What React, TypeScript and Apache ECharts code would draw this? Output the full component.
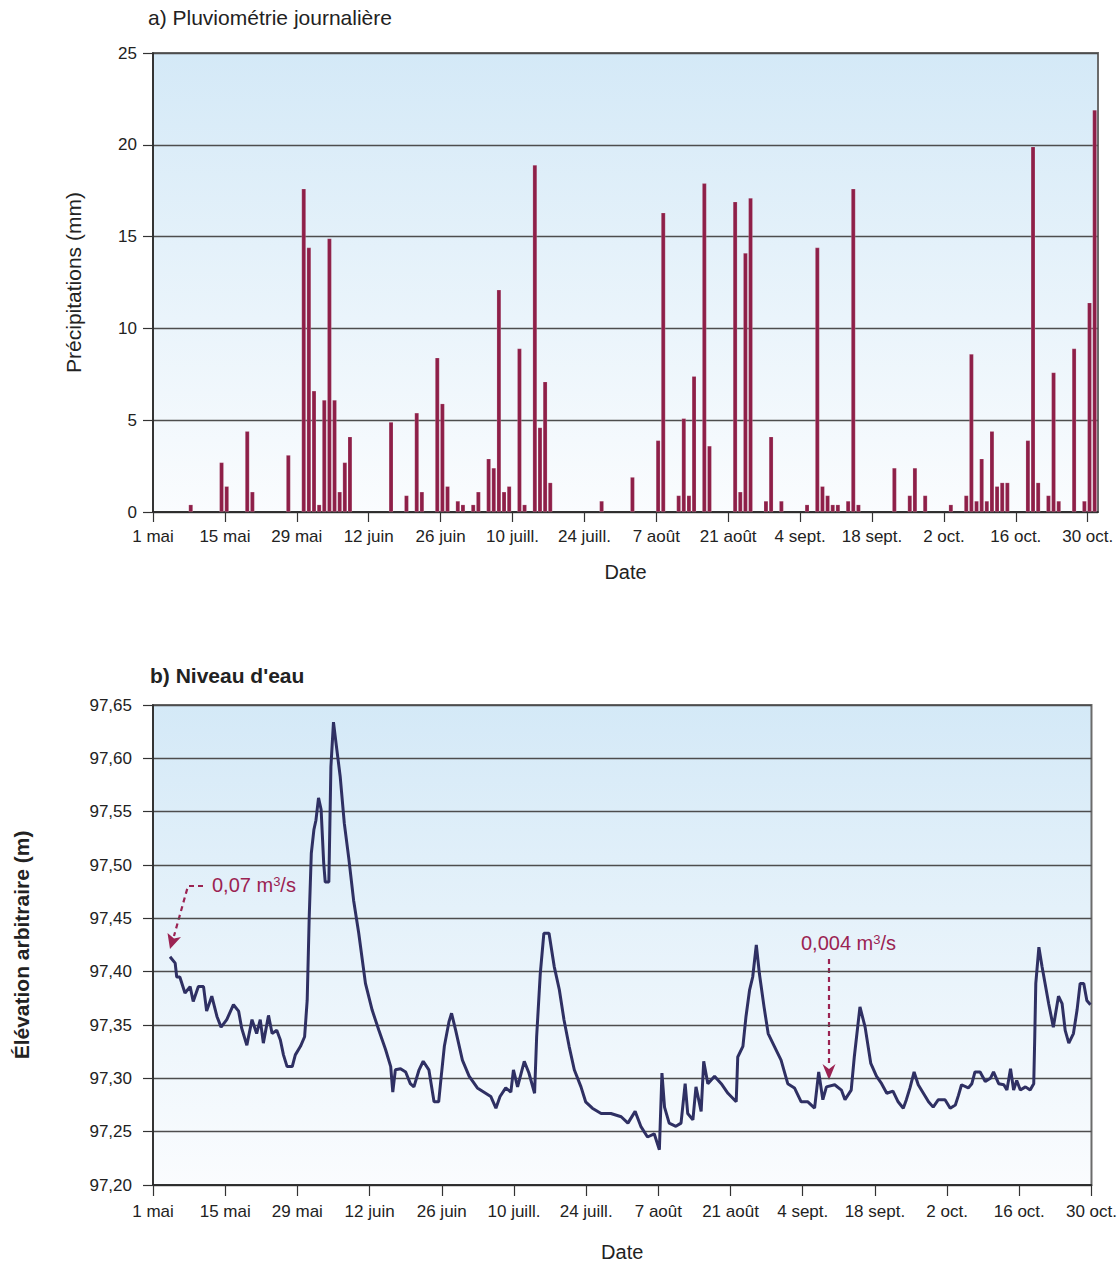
import React, { useEffect, useRef } from "react";
import * as echarts from "echarts";

// ---- Data ----
const dateTicks = [
  "1 mai", "15 mai", "29 mai", "12 juin", "26 juin", "10 juill.", "24 juill.",
  "7 août", "21 août", "4 sept.", "18 sept.", "2 oct.", "16 oct.", "30 oct.",
];

// day index from 1 mai (0) and daily rainfall (mm)
const rainDays = [
  7, 13, 14, 18, 19, 26, 29, 30, 31, 32, 33, 34, 35, 36, 37, 38, 46, 49, 51, 52,
  55, 56, 57, 59, 60, 62, 63, 65, 66, 67, 68, 69, 71, 72, 74, 75, 76, 77, 87, 93,
  98, 99, 102, 103, 104, 105, 107, 108, 113, 114, 115, 116, 119, 120, 122, 127,
  129, 130, 131, 132, 133, 135, 136, 137, 144, 147, 148, 150, 155, 158, 159, 160,
  161, 162, 163, 164, 165, 166, 170, 171, 172, 174, 175, 176, 179, 181, 182, 183,
];
const rainMm = [
  0.4, 2.7, 1.4, 4.4, 1.1, 3.1, 17.6, 14.4, 6.6, 0.4, 6.1, 14.9, 6.1, 1.1, 2.7, 4.1, 4.9, 0.9, 5.4, 1.1,
  8.4, 5.9, 1.4, 0.6, 0.4, 0.4, 1.1, 2.9, 2.4, 12.1, 1.1, 1.4, 8.9, 0.4, 18.9, 4.6, 7.1, 1.6, 0.6, 1.9,
  3.9, 16.3, 0.9, 5.1, 0.9, 7.4, 17.9, 3.6, 16.9, 1.1, 14.1, 17.1, 0.6, 4.1, 0.6, 0.4,
  14.4, 1.4, 0.9, 0.4, 0.4, 0.6, 17.6, 0.4, 2.4, 0.9, 2.4, 0.9, 0.4, 0.9, 8.6, 0.6,
  2.9, 0.6, 4.4, 1.4, 1.6, 1.6, 3.9, 19.9, 1.6, 0.9, 7.6, 0.6, 8.9, 0.6, 11.4, 21.9,
];

// water level: day (from 1 mai) and elevation (m)
const levelDays = [
  3.3, 4.3, 4.6, 5.2, 6.2, 7.2, 7.8, 8.8, 9.8, 10.4, 11.4, 12.4, 13.2, 14.3, 15.6, 16.6, 17.2, 18.2, 19.2, 20.1,
  20.8, 21.4, 22.4, 23.1, 24.0, 24.7, 25.3, 26.0, 27.0, 27.6, 28.6, 29.4, 29.9, 30.3, 30.7, 31.2, 31.6, 32.1, 32.6, 33.1,
  33.4, 34.1, 34.5, 35.0, 35.5, 36.3, 37.1, 38.0, 38.9, 39.9, 41.2, 42.5, 43.8, 45.1, 46.1, 46.5, 47.0, 48.0, 49.0, 49.9,
  50.6, 51.6, 52.4, 53.5, 54.5, 55.4, 55.9, 56.5, 57.4, 57.9, 58.7, 60.0, 61.3, 62.9, 64.2, 65.5, 66.5, 67.3, 68.4, 69.4,
  69.9, 70.7, 72.0, 72.9, 74.0, 74.4, 75.1, 75.8, 76.8, 77.8, 78.8, 79.7, 80.7, 81.7, 83.0, 83.9, 85.2, 86.9, 88.8, 90.8,
  92.1, 93.5, 94.6, 95.9, 97.2, 98.2, 98.7, 99.2, 100.1, 101.4, 102.4, 103.2, 103.7, 104.7, 105.3, 106.3, 106.8, 107.6, 108.9, 110.2,
  111.5, 113.1, 113.4, 114.4, 115.0, 115.7, 116.3, 117.0, 117.6, 118.5, 119.3, 120.5, 121.8, 123.1, 124.4, 125.7, 127.0, 128.3, 129.1, 129.9,
  130.6, 132.2, 133.5, 134.2, 135.4, 136.0, 137.1, 138.1, 139.2, 140.3, 141.3, 142.3, 143.5, 144.5, 145.5, 146.1, 146.8, 147.6, 148.4, 149.4,
  150.4, 151.3, 152.3, 153.6, 154.6, 155.6, 156.2, 156.8, 158.1, 158.8, 159.4, 160.4, 161.4, 162.4, 163.0, 164.0, 165.0, 165.6, 166.3, 166.9,
  167.5, 168.2, 169.2, 170.1, 170.8, 171.0, 171.2, 171.8, 172.4, 173.0, 173.7, 174.6, 175.6, 176.3, 176.9, 177.6, 178.5, 179.2, 179.8, 180.5,
  181.1, 181.8,
];
const levelM = [
  97.414, 97.408, 97.395, 97.395, 97.38, 97.386, 97.372, 97.386, 97.386, 97.363, 97.377, 97.358, 97.348, 97.355, 97.369, 97.363, 97.347, 97.331, 97.355, 97.342,
  97.355, 97.333, 97.359, 97.342, 97.345, 97.336, 97.322, 97.311, 97.311, 97.322, 97.33, 97.339, 97.373, 97.452, 97.511, 97.533, 97.542, 97.563, 97.552, 97.502,
  97.484, 97.484, 97.592, 97.634, 97.614, 97.583, 97.539, 97.505, 97.467, 97.436, 97.389, 97.364, 97.345, 97.327, 97.311, 97.287, 97.308, 97.309, 97.306, 97.295,
  97.292, 97.308, 97.316, 97.308, 97.278, 97.278, 97.302, 97.33, 97.353, 97.361, 97.345, 97.317, 97.302, 97.291, 97.287, 97.283, 97.272, 97.283, 97.291, 97.287,
  97.308, 97.292, 97.316, 97.305, 97.286, 97.339, 97.398, 97.436, 97.436, 97.405, 97.383, 97.355, 97.33, 97.308, 97.292, 97.278, 97.272, 97.267, 97.267, 97.264,
  97.258, 97.269, 97.255, 97.245, 97.248, 97.233, 97.305, 97.273, 97.258, 97.255, 97.258, 97.295, 97.267, 97.261, 97.292, 97.269, 97.316, 97.295, 97.302, 97.295,
  97.286, 97.278, 97.32, 97.33, 97.358, 97.383, 97.395, 97.425, 97.398, 97.367, 97.342, 97.33, 97.317, 97.295, 97.291, 97.278, 97.278, 97.272, 97.306, 97.28,
  97.292, 97.294, 97.289, 97.28, 97.289, 97.32, 97.367, 97.348, 97.314, 97.302, 97.295, 97.286, 97.288, 97.278, 97.272, 97.28, 97.291, 97.306, 97.294, 97.286,
  97.278, 97.273, 97.28, 97.28, 97.272, 97.275, 97.284, 97.294, 97.291, 97.295, 97.306, 97.306, 97.297, 97.3, 97.306, 97.295, 97.294, 97.289, 97.309, 97.289,
  97.298, 97.289, 97.292, 97.289, 97.295, 97.339, 97.389, 97.423, 97.405, 97.389, 97.37, 97.348, 97.377, 97.37, 97.345, 97.333, 97.342, 97.364, 97.389, 97.389,
  97.373, 97.369,
];

const FONT = '"Liberation Sans", Arial, Helvetica, sans-serif';
const TXT = "#222";
const ANNOT = "#9b2352";

const bg = {
  type: "linear", x: 0, y: 0, x2: 0, y2: 1,
  colorStops: [
    { offset: 0, color: "#d4e9f7" },
    { offset: 1, color: "#fafcfe" },
  ],
};

const tickDays = dateTicks.map((_, i) => i * 14);

function xAxisCfg(gridIndex: number, max: number, labelMargin: number, nameGap: number, tickLen: number) {
  return {
    gridIndex,
    type: "value",
    min: 0,
    max,
    interval: 14,
    axisLine: { show: true, lineStyle: { color: "#222", width: 1.5 } },
    axisTick: { show: true, length: tickLen, customValues: tickDays, lineStyle: { color: "#333", width: 1.2 } },
    axisLabel: {
      customValues: tickDays,
      formatter: (v: number) => dateTicks[Math.round(v / 14)] ?? "",
      fontSize: 17, color: TXT, fontFamily: FONT, margin: labelMargin,
    },
    splitLine: { show: false },
    name: "Date",
    nameLocation: "middle",
    nameGap,
    nameTextStyle: { fontSize: 20, color: TXT, fontFamily: FONT },
  };
}

export default function App() {
  const ref = useRef<HTMLDivElement>(null);

  useEffect(() => {
    document.body.style.margin = "0";
    if (!ref.current) return;
    const chart = echarts.init(ref.current, null, { renderer: "svg" });
    const option: any = {
      animation: false,
      backgroundColor: "#ffffff",
      textStyle: { fontFamily: FONT },
      title: [
        {
          text: "a) Pluviométrie journalière", left: 148, top: 7, padding: 0,
          textStyle: { fontSize: 21, fontWeight: "normal", color: TXT, fontFamily: FONT },
        },
        {
          text: "b) Niveau d'eau", left: 150, top: 665, padding: 0,
          textStyle: { fontSize: 21, fontWeight: "bold", color: TXT, fontFamily: FONT },
        },
      ],
      grid: [
        { left: 153, top: 53, width: 945, height: 459, show: true, backgroundColor: bg, borderColor: "#6b6b6b", borderWidth: 2 },
        { left: 153, top: 705, width: 939, height: 480, show: true, backgroundColor: bg, borderColor: "#6b6b6b", borderWidth: 2 },
      ],
      xAxis: [xAxisCfg(0, 184, 16, 50, 10), xAxisCfg(1, 182, 18, 57, 11)],
      yAxis: [
        {
          gridIndex: 0, type: "value", min: 0, max: 25, interval: 5,
          axisLine: { show: true, lineStyle: { color: "#222", width: 1.5 } },
          axisTick: { show: true, length: 10, lineStyle: { color: "#333", width: 1.2 } },
          axisLabel: { fontSize: 17, color: TXT, fontFamily: FONT, margin: 16 },
          splitLine: { show: true, lineStyle: { color: "#4d4d4d", width: 1.3 } },
          name: "Précipitations (mm)", nameLocation: "middle", nameGap: 69,
          nameTextStyle: { fontSize: 21, color: TXT, fontFamily: FONT },
        },
        {
          gridIndex: 1, type: "value", min: 97.2, max: 97.65, interval: 0.05,
          axisLine: { show: true, lineStyle: { color: "#222", width: 1.5 } },
          axisTick: { show: true, length: 10, lineStyle: { color: "#333", width: 1.2 } },
          axisLabel: {
            fontSize: 17, color: TXT, fontFamily: FONT, margin: 21,
            formatter: (v: number) => v.toFixed(2).replace(".", ","),
          },
          splitLine: { show: true, lineStyle: { color: "#4d4d4d", width: 1.3 } },
          name: "Élévation arbitraire (m)", nameLocation: "middle", nameGap: 121,
          nameTextStyle: { fontSize: 21, fontWeight: "bold", color: TXT, fontFamily: FONT },
        },
      ],
      series: [
        {
          type: "bar", xAxisIndex: 0, yAxisIndex: 0,
          data: rainDays.map((d, i) => [d + 0.35, rainMm[i]]),
          barWidth: 4.4,
          itemStyle: { color: "#8e1f48", borderColor: "rgba(255,255,255,0.35)", borderWidth: 0.5 },
        },
        {
          type: "line", xAxisIndex: 1, yAxisIndex: 1,
          data: levelDays.map((d, i) => [d, levelM[i]]),
          showSymbol: false, symbol: "none",
          lineStyle: { color: "#2f3063", width: 3 },
        },
      ],
      graphic: [
        // annotation 1
        {
          type: "polyline", shape: { points: [[203, 886], [188, 886], [174, 936]] },
          style: { stroke: ANNOT, lineWidth: 2.2, lineDash: [5, 4], fill: null },
        },
        {
          type: "polygon", shape: { points: [[170, 949], [167.5, 933], [174, 938.5], [181, 937]] },
          style: { fill: ANNOT },
        },
        {
          type: "text", x: 212, y: 885,
          style: {
            text: "0,07 m{sup|3}/s", fill: ANNOT, fontSize: 20, fontFamily: FONT,
            verticalAlign: "middle",
            rich: { sup: { fontSize: 13, fill: ANNOT, fontFamily: FONT, verticalAlign: "top", padding: [0, 0, 8, 0] } },
          },
        },
        // annotation 2
        {
          type: "line", shape: { x1: 829, y1: 959, x2: 829, y2: 1066 },
          style: { stroke: ANNOT, lineWidth: 2.2, lineDash: [5, 4] },
        },
        {
          type: "polygon", shape: { points: [[829, 1080], [822.5, 1064], [829, 1069], [835.5, 1064]] },
          style: { fill: ANNOT },
        },
        {
          type: "text", x: 801, y: 943,
          style: {
            text: "0,004 m{sup|3}/s", fill: ANNOT, fontSize: 20, fontFamily: FONT,
            verticalAlign: "middle",
            rich: { sup: { fontSize: 13, fill: ANNOT, fontFamily: FONT, verticalAlign: "top", padding: [0, 0, 8, 0] } },
          },
        },
      ],
    };
    chart.setOption(option);
    return () => chart.dispose();
  }, []);

  return <div ref={ref} style={{ width: 1120, height: 1264 }} />;
}
